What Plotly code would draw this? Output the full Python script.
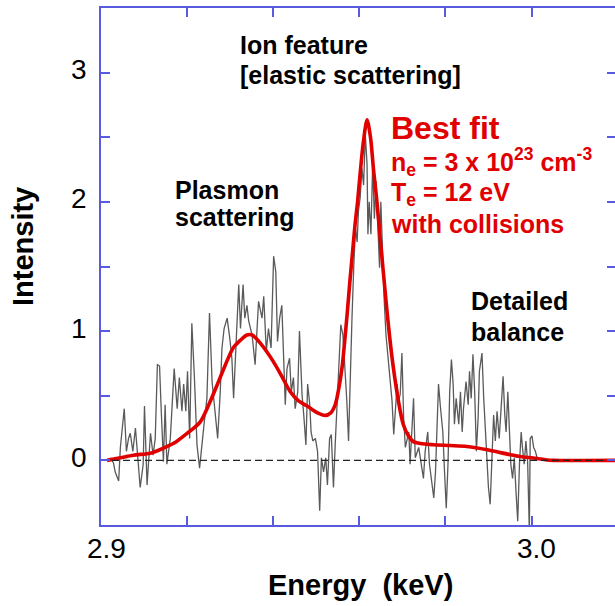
import plotly.graph_objects as go

# ---------------- data ----------------
energy_meas = [
    2.9022, 2.9029, 2.9033, 2.9041, 2.9045, 2.9049, 2.9054, 2.9059, 2.9064, 2.9068,
    2.9074, 2.9080, 2.9085, 2.9091, 2.9098, 2.9101, 2.9107, 2.9115, 2.9121, 2.9126,
    2.9131, 2.9136, 2.9140, 2.9145, 2.9149, 2.9153, 2.9161, 2.9165, 2.9170, 2.9177,
    2.9182, 2.9188, 2.9192, 2.9197, 2.9201, 2.9206, 2.9211, 2.9217, 2.9223, 2.9229,
    2.9235, 2.9240, 2.9246, 2.9252, 2.9258, 2.9264, 2.9271, 2.9277, 2.9281, 2.9286,
    2.9293, 2.9299, 2.9304, 2.9308, 2.9312, 2.9316, 2.9320, 2.9324, 2.9330, 2.9334,
    2.9339, 2.9343, 2.9351, 2.9358, 2.9366, 2.9374, 2.9378, 2.9384, 2.9389, 2.9395,
    2.9401, 2.9406, 2.9410, 2.9415, 2.9420, 2.9424, 2.9428, 2.9432, 2.9438, 2.9442,
    2.9447, 2.9451, 2.9457, 2.9461, 2.9467, 2.9471, 2.9476, 2.9480, 2.9485, 2.9488,
    2.9492, 2.9498, 2.9503, 2.9508, 2.9512, 2.9517, 2.9522, 2.9526, 2.9531, 2.9535,
    2.9540, 2.9544, 2.9548, 2.9552, 2.9557, 2.9562, 2.9567, 2.9571, 2.9575, 2.9579,
    2.9583, 2.9587, 2.9591, 2.9595, 2.9598, 2.9602, 2.9606, 2.9610, 2.9614, 2.9618,
    2.9620, 2.9623, 2.9627, 2.9631, 2.9635, 2.9639, 2.9643, 2.9647, 2.9650, 2.9654,
    2.9658, 2.9662, 2.9666, 2.9670, 2.9676, 2.9680, 2.9684, 2.9688, 2.9691, 2.9695,
    2.9699, 2.9703, 2.9707, 2.9715, 2.9718, 2.9726, 2.9730, 2.9738, 2.9743, 2.9749,
    2.9753, 2.9759, 2.9763, 2.9769, 2.9773, 2.9777, 2.9780, 2.9784, 2.9788, 2.9794,
    2.9798, 2.9802, 2.9806, 2.9810, 2.9814, 2.9818, 2.9821, 2.9825, 2.9831, 2.9835,
    2.9839, 2.9842, 2.9848, 2.9853, 2.9856, 2.9860, 2.9864, 2.9868, 2.9872, 2.9876,
    2.9879, 2.9885, 2.9889, 2.9893, 2.9897, 2.9900, 2.9904, 2.9908, 2.9912, 2.9916,
    2.9920, 2.9925, 2.9930, 2.9934, 2.9938, 2.9941, 2.9945, 2.9948, 2.9952, 2.9956,
    2.9960, 2.9964, 2.9968, 2.9972, 2.9976, 2.9979, 2.9983, 2.9987, 2.9991, 2.9995,
    2.9997, 3.0001, 3.0005, 3.0009, 3.0013,
]
intensity_meas = [
    0.02, -0.02, -0.09, -0.16, 0.10, 0.22, 0.40, 0.07, 0.17, 0.21,
    0.07, 0.25, 0.04, -0.21, -0.03, 0.42, -0.19, 0.21, 0.04, 0.17,
    0.74, 0.73, 0.38, -0.01, 0.43, -0.03, 0.17, 0.43, 0.71, 0.40,
    0.64, 0.38, 0.59, 0.38, 0.69, 0.17, 1.06, 0.64, 0.12, -0.06,
    0.17, 0.30, 0.48, 1.14, 0.61, 0.38, 0.17, 0.53, 0.87, 1.02,
    1.10, 0.95, 0.79, 0.48, 0.77, 1.15, 1.36, 1.02, 1.36, 1.10,
    1.20, 1.08, 0.97, 0.74, 1.23, 1.10, 1.27, 0.84, 1.02, 0.87,
    1.58, 1.46, 0.92, 1.10, 1.20, 0.82, 0.43, 0.71, 0.79, 0.53,
    0.64, 0.40, 0.53, 1.00, 0.51, 0.35, 0.12, 0.59, 0.43, 0.22,
    0.15, 0.17, 0.07, -0.39, 0.02, -0.09, 0.02, -0.19, 0.17, 0.20,
    -0.21, 0.12, 0.38, 0.66, 1.05, 0.97, 0.71, 0.46, 0.15, 0.71,
    1.10, 1.49, 1.80, 1.69, 1.93, 2.03, 2.26, 2.13, 2.52, 2.29,
    1.75, 2.00, 1.75, 2.29, 1.87, 2.16, 1.75, 1.49, 2.00, 1.54,
    1.23, 0.97, 0.82, 0.66, 0.46, 0.20, 0.38, 0.59, 0.46, 0.51,
    0.83, 0.33, 0.10, 0.22, -0.03, 0.48, 0.02, 0.10, -0.01, -0.14,
    0.07, 0.22, -0.03, -0.19, -0.29, -0.09, 0.28, 0.59, 0.43, 0.22,
    -0.09, -0.37, -0.03, 0.53, 0.78, 0.59, 0.28, 0.48, 0.28, 0.53,
    0.22, 0.40, 0.61, 0.43, 0.69, 0.48, 0.82, 0.53, 0.07, 0.33,
    0.69, 0.83, 0.48, 0.22, -0.09, -0.21, -0.34, -0.03, 0.35, 0.15,
    0.38, 0.17, 0.48, 0.65, 0.35, 0.22, 0.53, 0.22, -0.03, -0.14,
    0.02, -0.24, -0.47, -0.03, 0.22, 0.10, -0.03, 0.15, -0.01, -0.55,
    0.17, 0.19, 0.10, 0.07, 0.02,
]

energy_fit = [
    2.9014, 2.9045, 2.9075, 2.9115, 2.9135, 2.9154, 2.9173, 2.9191, 2.9211, 2.9231,
    2.9249, 2.9270, 2.9289, 2.9307, 2.9324, 2.9339, 2.9351, 2.9370, 2.9400, 2.9420,
    2.9440, 2.9459, 2.9479, 2.9502, 2.9521, 2.9533, 2.9544, 2.9552, 2.9560, 2.9566,
    2.9572, 2.9578, 2.9584, 2.9590, 2.9596, 2.9602, 2.9609, 2.9618, 2.9626, 2.9633,
    2.9641, 2.9649, 2.9656, 2.9663, 2.9670, 2.9679, 2.9691, 2.9702, 2.9714, 2.9725,
    2.9742, 2.9772, 2.9811, 2.9850, 2.9897, 2.9928, 2.9951, 2.9974, 3.0004, 3.0032,
    3.0051, 3.0200,
]
intensity_fit = [
    0.00, 0.02, 0.04, 0.056, 0.08, 0.108, 0.14, 0.186, 0.237, 0.30,
    0.42, 0.585, 0.74, 0.87, 0.93, 0.97, 0.97, 0.907, 0.766, 0.65,
    0.53, 0.46, 0.42, 0.37, 0.348, 0.366, 0.43, 0.55, 0.72, 0.92,
    1.14, 1.38, 1.60, 1.82, 2.00, 2.22, 2.45, 2.635, 2.50, 2.25,
    2.00, 1.70, 1.45, 1.20, 0.97, 0.72, 0.456, 0.28, 0.19, 0.147,
    0.13, 0.121, 0.115, 0.108, 0.083, 0.06, 0.044, 0.03, 0.018, 0.005,
    0.0, 0.0,
]

baseline_x = [2.9, 3.02]
baseline_y = [0, 0]

x_tickvals = [2.90, 2.92, 2.94, 2.96, 2.98, 3.00, 3.02]
x_labelvals = [2.9, 3.0]
x_labeltext = ["2.9", "3.0"]
y_tickvals = [-0.5, 0, 0.5, 1, 1.5, 2, 2.5, 3, 3.5]
y_labelvals = [0, 1, 2, 3]
y_labeltext = ["0", "1", "2", "3"]

# ---------------- layout geometry ----------------
W, H = 615, 606
L, T, R, B = 101, 8, 615, 525
AXIS_BLUE = "#5a5ae0"
RED = "#e10000"
FONT = "Liberation Sans, Arial, Helvetica, sans-serif"


def pxx(p):
    return (p - L) / (R - L)


def pxy(p):
    return (B - p) / (B - T)


fig = go.Figure()

fig.add_trace(go.Scatter(
    x=baseline_x, y=baseline_y, mode="lines", yaxis="y2",
    line=dict(color="#222222", width=1.3, dash="7px,4px"),
    hoverinfo="skip", showlegend=False,
))
fig.add_trace(go.Scatter(
    x=energy_meas, y=intensity_meas, mode="lines",
    line=dict(color="#5a5a5a", width=1.3),
    showlegend=False,
))
fig.add_trace(go.Scatter(
    x=energy_fit, y=intensity_fit, mode="lines",
    line=dict(color=RED, width=3.6, shape="spline", smoothing=0.8),
    showlegend=False,
))

fig.update_layout(
    width=W, height=H,
    margin=dict(l=L, r=W - R, t=T, b=H - B, pad=0),
    paper_bgcolor="white", plot_bgcolor="white",
    font=dict(family=FONT, color="black"),
    xaxis=dict(
        range=[2.9, 2.9 + 0.1 * (R - L) / 430.5],
        tickmode="array", tickvals=x_tickvals, showticklabels=False,
        ticks="inside", ticklen=9, tickwidth=1.5, tickcolor=AXIS_BLUE,
        showline=True, linecolor=AXIS_BLUE, linewidth=1.5, mirror="ticks",
        showgrid=False, zeroline=False,
    ),
    yaxis=dict(
        range=[-0.5, 3.5],
        tickmode="array", tickvals=y_tickvals, showticklabels=False,
        ticks="inside", ticklen=9, tickwidth=1.5, tickcolor=AXIS_BLUE,
        showline=True, linecolor=AXIS_BLUE, linewidth=1.5,
        showgrid=False, zeroline=False,
    ),
    yaxis2=dict(
        overlaying="y", side="right", matches="y",
        tickmode="array", tickvals=y_tickvals, showticklabels=False,
        ticks="inside", ticklen=8, tickwidth=1.5, tickcolor=AXIS_BLUE,
        showline=False, showgrid=False, zeroline=False,
    ),
)

# tick labels
for v, t in zip(x_labelvals, x_labeltext):
    fig.add_annotation(
        text=t, xref="x", yref="paper", x=v, y=pxy(548), xshift=5,
        xanchor="center", yanchor="middle", showarrow=False,
        font=dict(size=28, color="black", family=FONT),
    )
for v, t in zip(y_labelvals, y_labeltext):
    fig.add_annotation(
        text=t, xref="paper", yref="y", x=pxx(89), y=v, yshift=3,
        xanchor="right", yanchor="middle", showarrow=False,
        font=dict(size=28, color="black", family=FONT),
    )

annots = [
    # (text, x_px_left, y_px_center, size, color)
    ("Ion feature", 238, 45, 25, "black"),
    ("[elastic scattering]", 238, 75, 25, "black"),
    ("Plasmon", 173, 190, 25, "black"),
    ("scattering", 173, 217, 25, "black"),
    ("Best fit", 389, 128, 32, RED),
    ("n<sub>e</sub> = 3 x 10<sup>23</sup> cm<sup>-3</sup>", 389, 162, 25, RED),
    ("T<sub>e</sub> = 12 eV", 389, 194, 25, RED),
    ("with collisions", 389, 224, 25, RED),
    ("Detailed", 469, 301, 25, "black"),
    ("balance", 469, 332, 25, "black"),
]
for text, xp, yp, size, col in annots:
    fig.add_annotation(
        text="<b>" + text + "</b>", xref="paper", yref="paper",
        x=pxx(xp), y=pxy(yp), xanchor="left", yanchor="middle",
        showarrow=False, font=dict(size=size, color=col, family=FONT),
    )

fig.add_annotation(
    text="<b>Energy  (keV)</b>", xref="paper", yref="paper",
    x=pxx(360), y=pxy(585), xanchor="center", yanchor="middle",
    showarrow=False, font=dict(size=29, color="black", family=FONT),
)
fig.add_annotation(
    text="<b>Intensity</b>", xref="paper", yref="paper",
    x=pxx(23), y=pxy(247), xanchor="center", yanchor="middle", textangle=-90,
    showarrow=False, font=dict(size=29, color="black", family=FONT),
)

fig.write_html("out.html")
